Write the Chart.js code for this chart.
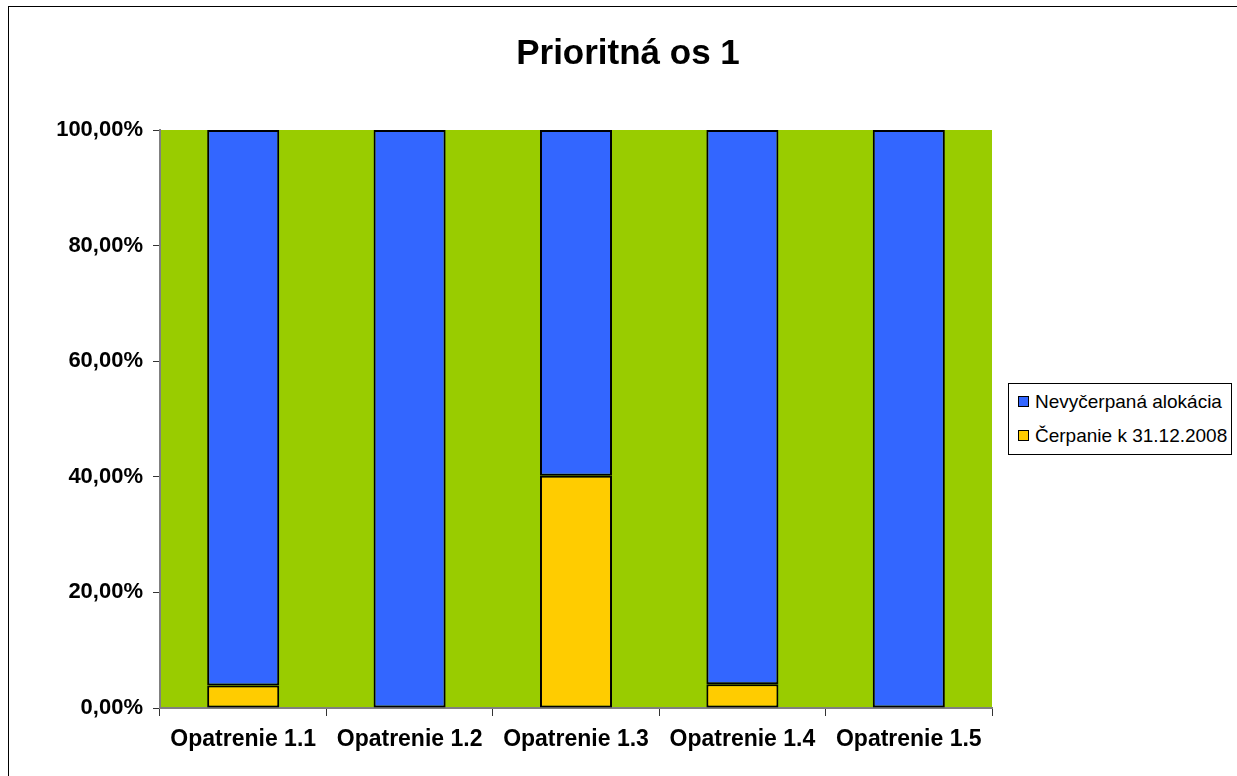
<!DOCTYPE html>
<html>
<head>
<meta charset="utf-8">
<script src="https://cdn.jsdelivr.net/npm/chart.js@4.4.0/dist/chart.umd.min.js"></script>
<style>
  html, body { margin: 0; padding: 0; background: #fff; }
  #wrap { width: 1237px; height: 776px; position: relative; }
  #legend {
    position: absolute; left: 1008px; top: 383px; width: 222px; height: 70px;
    border: 1px solid #000; background: #fff;
    font-family: 'Liberation Sans', Arial, sans-serif; font-size: 19px; color: #000;
  }
  #legend .item { position: absolute; left: 9px; white-space: nowrap; line-height: 20px; }
  #legend .sw {
    display: inline-block; width: 9px; height: 9px; border: 1px solid #000;
    margin-right: 6px; vertical-align: 1px;
  }
</style>
</head>
<body>
<div id="wrap">
  <canvas id="chart" width="1237" height="776"></canvas>
  <div id="legend"></div>
</div>
<script>
// data
const categories = ['Opatrenie 1.1', 'Opatrenie 1.2', 'Opatrenie 1.3', 'Opatrenie 1.4', 'Opatrenie 1.5'];
const cerpanie = [3.9, 0, 40.2, 4.1, 0];
const nevycerpana = [96.1, 100, 59.8, 95.9, 100];
const yTicks = [0, 20, 40, 60, 80, 100];

const FONT = 'Liberation Sans, Arial, sans-serif';

// green plot background, black outer frame
const plotBg = {
  id: 'plotBg',
  beforeDraw(chart) {
    const { ctx, chartArea: a } = chart;
    ctx.save();
    ctx.fillStyle = '#fff';
    ctx.fillRect(0, 0, chart.width, chart.height);
    ctx.strokeStyle = '#000';
    ctx.lineWidth = 1;
    ctx.strokeRect(8.5, 6.5, chart.width, chart.height);
    ctx.fillStyle = '#99cc00';
    ctx.fillRect(a.left, a.top, a.right - a.left, a.bottom - a.top);
    ctx.restore();
  }
};

const zeroless = ctx => (ctx.raw === 0 ? 0 : 2);

const chart = new Chart(document.getElementById('chart'), {
  type: 'bar',
  data: {
    labels: categories,
    datasets: [
      {
        label: 'Čerpanie k 31.12.2008',
        data: cerpanie,
        backgroundColor: '#ffcc00',
        borderColor: '#000',
        borderWidth: zeroless,
        borderSkipped: false
      },
      {
        label: 'Nevyčerpaná alokácia',
        data: nevycerpana,
        backgroundColor: '#3366ff',
        borderColor: '#000',
        borderWidth: zeroless,
        borderSkipped: false
      }
    ]
  },
  options: {
    responsive: false,
    animation: false,
    layout: { padding: { top: 0, left: 19, right: 0, bottom: 0 } },
    datasets: { bar: { categoryPercentage: 1, barPercentage: 0.433 } },
    plugins: {
      title: {
        display: true,
        text: 'Prioritná os 1',
        color: '#000',
        font: { family: FONT, size: 35, weight: 'bold' },
        padding: { top: 33, bottom: 55 }
      },
      legend: { display: false },
      tooltip: { enabled: false }
    },
    scales: {
      x: {
        stacked: true,
        afterFit: s => { s.height = 68; },
        grid: { offset: true, drawOnChartArea: false, color: '#333', tickLength: 8 },
        border: { color: '#808080', width: 2 },
        ticks: {
          color: '#000',
          font: { family: FONT, size: 23, weight: 'bold' },
          padding: 10,
          maxRotation: 0,
          autoSkip: false
        }
      },
      y: {
        stacked: true,
        min: 0,
        max: 100,
        afterFit: s => { s.width = 141; },
        afterBuildTicks: s => { s.ticks = yTicks.map(v => ({ value: v })); },
        grid: { drawOnChartArea: false, color: '#333', tickLength: 7 },
        border: { color: '#808080', width: 2 },
        ticks: {
          color: '#000',
          font: { family: FONT, size: 22, weight: 'bold' },
          padding: 10,
          callback: v => v.toFixed(2).replace('.', ',') + '%'
        }
      },
      // empty right-hand space that holds the legend
      side: {
        position: 'right',
        display: true,
        afterFit: s => { s.width = 245; },
        grid: { display: false },
        border: { display: false },
        ticks: { display: false }
      }
    }
  },
  plugins: [plotBg]
});

// legend, same order as the reference (top series first)
const legendEl = document.getElementById('legend');
chart.data.datasets.slice().reverse().forEach((ds, i) => {
  const item = document.createElement('div');
  item.className = 'item';
  item.style.top = (8 + i * 34) + 'px';
  item.innerHTML = `<span class="sw" style="background:${ds.backgroundColor}"></span>${ds.label}`;
  legendEl.appendChild(item);
});
</script>
</body>
</html>
